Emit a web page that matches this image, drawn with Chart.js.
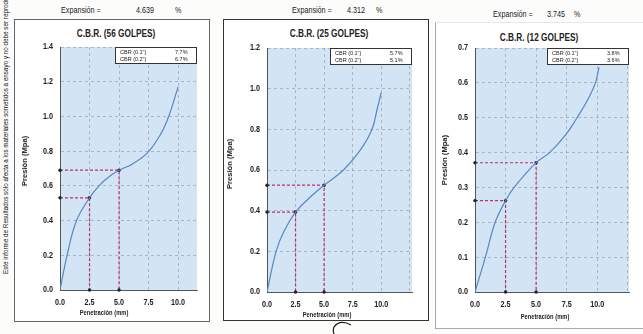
<!DOCTYPE html>
<html lang="es">
<head>
<meta charset="UTF-8">
<title>C.B.R. - Presión vs Penetración</title>
<script src="https://cdn.jsdelivr.net/npm/chart.js"></script>
<style>
    body { margin: 0; width: 643px; height: 334px; background: #fcfcfb; position: relative; overflow: hidden;
           font-family: 'Liberation Sans', Arial, sans-serif; color: #222; }
    .caja { position: absolute; background: #fff; box-sizing: border-box; }
    .lienzo { position: absolute; }
    .t { position: absolute; white-space: nowrap; line-height: 1; }
    .exp { font-size: 9px; transform-origin: left center; transform: translateY(-50%) scaleX(0.8); }
    .titulo { font-size: 11px; font-weight: bold; transform: translate(-50%, -50%) scaleX(0.75); }
    .ejeX { font-size: 8px; font-weight: bold; transform: translate(-50%, -50%) scaleX(0.72); }
    .ejeY { font-size: 8px; font-weight: bold; transform: translate(-50%, -50%) rotate(-90deg) scaleX(0.95); }
    .nota { position: absolute; left: 2px; top: 274px; font-size: 6.3px; white-space: nowrap;
            transform-origin: left top; transform: rotate(-90deg); color: #111; }
</style>
</head>
<body>
<div class="nota">Este informe de Resultados sólo afecta a los materiales sometidos a ensayo y no debe ser reproducido</div>

<div class="caja" style="left:14px; top:19px; width:196px; height:303px; border:1px solid #666;"></div>
<div class="caja" style="left:223px; top:19px; width:206px; height:302px; border:1.5px solid #333;"></div>
<div class="caja" style="left:435px; top:22px; width:215px; height:307px; border:1px solid #aaa; border-top-color:#e8e8e8;"></div>

<div class="t exp" style="left:61px; top:9.5px;">Expansión =</div>
<div class="t exp" style="left:136px; top:9.5px;">4.639</div>
<div class="t exp" style="left:175px; top:9.5px;">%</div>
<div class="t exp" style="left:292px; top:10px;">Expansión =</div>
<div class="t exp" style="left:347px; top:10px;">4.312</div>
<div class="t exp" style="left:376px; top:10px;">%</div>
<div class="t exp" style="left:493px; top:14px;">Expansión =</div>
<div class="t exp" style="left:547px; top:14px;">3.745</div>
<div class="t exp" style="left:574px; top:14px;">%</div>

<div class="t titulo" style="left:115.5px; top:33px;">C.B.R. (56 GOLPES)</div>
<div class="t titulo" style="left:328.5px; top:33px;">C.B.R. (25 GOLPES)</div>
<div class="t titulo" style="left:538.5px; top:37px;">C.B.R. (12 GOLPES)</div>

<canvas id="g56" class="lienzo" style="left:15px; top:20px;"></canvas>
<canvas id="g25" class="lienzo" style="left:224px; top:20px;"></canvas>
<canvas id="g12" class="lienzo" style="left:436px; top:20px;"></canvas>

<div class="t ejeX" style="left:104px; top:313px;">Penetración (mm)</div>
<div class="t ejeX" style="left:327px; top:315px;">Penetración (mm)</div>
<div class="t ejeX" style="left:545px; top:317px;">Penetración (mm)</div>
<div class="t ejeY" style="left:25px; top:161px;">Presión (Mpa)</div>
<div class="t ejeY" style="left:230px; top:164px;">Presión (Mpa)</div>
<div class="t ejeY" style="left:445px; top:160px;">Presión (Mpa)</div>

<svg style="position:absolute; left:0; top:0;" width="643" height="334">
    <path d="M334 334 C331 325, 340 319, 351 325" fill="none" stroke="#222" stroke-width="1.2"/>
</svg>

<script>
// curvas presión-penetración (mm, MPa)
const pen56 = [0, 0.6, 1.4, 2.5, 3.3, 4.2, 5.0, 6.1, 7.4, 8.5, 9.2, 10.0];
const pres56 = [0, 0.2, 0.4, 0.531, 0.6, 0.655, 0.69, 0.725, 0.79, 0.895, 1.0, 1.17];
const pen25 = [0, 0.8, 1.5, 2.5, 3.7, 5.0, 6.7, 8.2, 9.2, 9.65, 10.0];
const pres25 = [0, 0.2, 0.3, 0.393, 0.462, 0.525, 0.6, 0.7, 0.8, 0.9, 0.98];
const pen12 = [0, 0.85, 1.65, 2.5, 3.2, 5.0, 6.1, 7.4, 8.35, 9.2, 9.85, 10.15];
const pres12 = [0, 0.1, 0.2, 0.262, 0.3, 0.371, 0.4, 0.45, 0.5, 0.55, 0.6, 0.645];

// CBR a 0.1" y 0.2"
const cbr56 = [7.7, 6.7];
const cbr25 = [5.7, 5.1];
const cbr12 = [3.8, 3.6];
const penCbr = [2.5, 5.0];
const cargaPatron = [6.9, 10.3]; // MPa
const etiquetasCbr = ['CBR (0.1")', 'CBR (0.2")'];

const FUENTE = "'Liberation Sans', Arial, sans-serif";
Chart.defaults.font.family = FUENTE;
Chart.defaults.color = '#222';

const fondoPlot = {
    id: 'fondoPlot',
    beforeDraw(chart) {
        const { ctx, chartArea: a } = chart;
        ctx.save();
        ctx.fillStyle = '#d3e5f5';
        ctx.fillRect(a.left, a.top, a.width, a.height);
        ctx.restore();
    }
};

// etiquetas de los ejes en letra angosta
function textoAngosto(ctx, txt, x, y, align) {
    ctx.save();
    ctx.translate(x, y);
    ctx.scale(0.8, 1);
    ctx.textAlign = align;
    ctx.fillText(txt, 0, 0);
    ctx.restore();
}

const etiquetasEjes = {
    id: 'etiquetasEjes',
    afterDraw(chart) {
        const { ctx, chartArea: a, scales } = chart;
        ctx.save();
        ctx.fillStyle = '#222';
        ctx.font = 'bold 9px ' + FUENTE;
        ctx.textBaseline = 'middle';
        scales.x.ticks.forEach(t => {
            if (t.value <= 10) textoAngosto(ctx, t.value.toFixed(1), scales.x.getPixelForValue(t.value), a.bottom + 12.5, 'center');
        });
        scales.y.ticks.forEach(t => {
            textoAngosto(ctx, t.value.toFixed(1), a.left - 7, scales.y.getPixelForValue(t.value), 'right');
        });
        ctx.restore();
    }
};

const cuadroCbr = {
    id: 'cuadroCbr',
    afterDraw(chart, args, opts) {
        const { ctx, chartArea: a } = chart;
        const w = 82, h = 17, x = a.right - w, y = a.top;
        ctx.save();
        ctx.fillStyle = '#fff';
        ctx.fillRect(x, y, w, h);
        ctx.strokeStyle = '#333';
        ctx.lineWidth = 1;
        ctx.strokeRect(x + 0.5, y + 0.5, w - 1, h - 1);
        ctx.fillStyle = '#222';
        ctx.font = '5.5px ' + FUENTE;
        ctx.textBaseline = 'middle';
        opts.valores.forEach((v, i) => {
            const ty = y + 5 + i * 7;
            ctx.fillText(etiquetasCbr[i], x + 5, ty);
            ctx.fillText(v.toFixed(1) + '%', x + 60, ty);
        });
        ctx.restore();
    }
};

function crearGrafico(id, pen, pres, cbr, cfg) {
    const canvas = document.getElementById(id);
    canvas.width = cfg.ancho;
    canvas.height = cfg.alto;

    const guias = cbr.map((c, i) => {
        const p = c / 100 * cargaPatron[i];
        return {
            data: [{ x: 0, y: p }, { x: penCbr[i], y: p }, { x: penCbr[i], y: 0 }],
            borderColor: '#bd3168',
            borderWidth: 1.2,
            borderDash: [3, 2],
            pointRadius: 1.7,
            pointBackgroundColor: '#222',
            pointBorderWidth: 0,
            tension: 0,
            clip: false
        };
    });

    new Chart(canvas, {
        type: 'line',
        data: {
            datasets: [{
                data: pen.map((x, i) => ({ x: x, y: pres[i] })),
                borderColor: '#5886c4',
                borderWidth: 1.2,
                pointRadius: 0,
                tension: 0.4
            }, ...guias]
        },
        options: {
            responsive: false,
            animation: false,
            layout: { autoPadding: false, padding: { left: 0, right: cfg.der, top: cfg.sup, bottom: 0 } },
            plugins: { legend: { display: false }, tooltip: { enabled: false }, cuadroCbr: { valores: cbr } },
            scales: {
                x: {
                    type: 'linear', min: 0, max: cfg.xMax,
                    ticks: { stepSize: 2.5, includeBounds: false, display: false },
                    grid: { color: 'rgba(105,115,130,0.5)', lineWidth: 0.8, drawTicks: false },
                    border: { color: '#555', width: 1, dash: [3, 3] },
                    afterFit: s => { s.height = cfg.altoX; }
                },
                y: {
                    min: 0, max: cfg.yMax,
                    ticks: { stepSize: cfg.yPaso, display: false },
                    grid: { color: 'rgba(105,115,130,0.5)', lineWidth: 0.8, drawTicks: false },
                    border: { color: '#555', width: 1, dash: [3, 3] },
                    afterFit: s => { s.width = cfg.anchoY; }
                }
            }
        },
        plugins: [fondoPlot, etiquetasEjes, cuadroCbr]
    });
}

crearGrafico('g56', pen56, pres56, cbr56,
    { ancho: 194, alto: 300, der: 12, sup: 27, altoX: 30, anchoY: 45, xMax: 11.6, yMax: 1.4, yPaso: 0.2 });
crearGrafico('g25', pen25, pres25, cbr25,
    { ancho: 204, alto: 302, der: 16, sup: 28, altoX: 30, anchoY: 43, xMax: 12.7, yMax: 1.2, yPaso: 0.2 });
crearGrafico('g12', pen12, pres12, cbr12,
    { ancho: 207, alto: 310, der: 14, sup: 28, altoX: 38, anchoY: 39, xMax: 12.6, yMax: 0.7, yPaso: 0.1 });
</script>
</body>
</html>
